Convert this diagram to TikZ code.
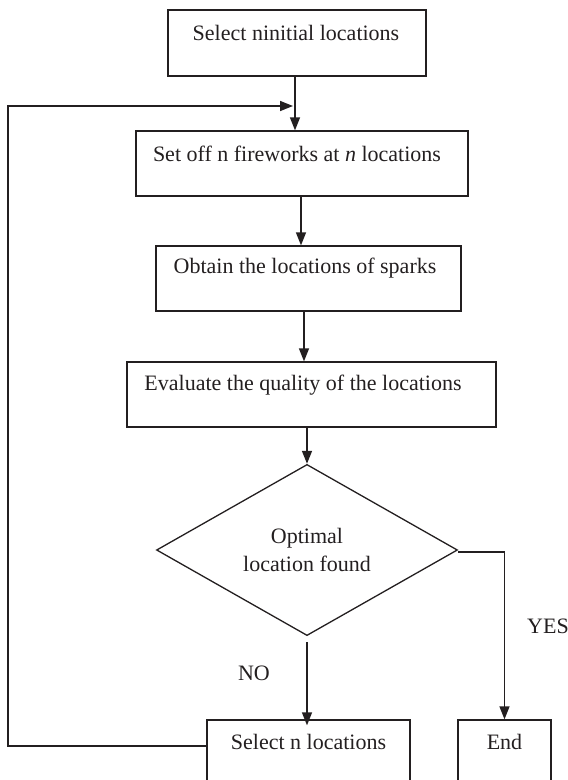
\documentclass[tikz,border=0pt]{standalone}
\usepackage{fontspec}
\setmainfont{Liberation Serif}
\usetikzlibrary{arrows.meta,shapes.geometric}
\definecolor{ink}{RGB}{35,31,32}
\begin{document}
\begin{tikzpicture}[x=1pt,y=-1pt,
  every node/.style={font=\fontsize{22}{28}\selectfont, text=ink},
  box/.style={draw=ink, rectangle, line width=1.35pt, inner sep=0pt},
  dec/.style={draw=ink, diamond, line width=1.3pt, inner sep=0pt, align=center},
  link/.style={draw=ink, line width=1.5pt, -{Triangle[length=13pt,width=10pt]}}]
\clip (0,0) rectangle (568,780);
% boxes
\node[box, minimum width=258pt, minimum height=66pt,
  label={[name=t1, xshift=-1pt, yshift=10pt]center:Select ninitial locations}] (b1) at (297,43) {};
\node[box, minimum width=332pt, minimum height=65pt,
  label={[name=t2, xshift=-5pt, yshift=9.5pt]center:Set off n fireworks at \textit{n} locations}] (b2) at (302,163.5) {};
\node[box, minimum width=305pt, minimum height=65pt,
  label={[name=t3, xshift=-3.5pt, yshift=10.5pt]center:Obtain the locations of sparks}] (b3) at (308.5,278.5) {};
\node[box, minimum width=369pt, minimum height=65pt,
  label={[name=t4, xshift=-8.5pt, yshift=9.5pt]center:Evaluate the quality of the locations}] (b4) at (311.5,394.5) {};
\node[dec, minimum width=301pt, minimum height=127pt] (d) at (307,550) {Optimal\\location found};
\node[box, minimum width=203pt, minimum height=80pt,
  label={[name=t5, yshift=18pt]center:Select n locations}] (b5) at (308.5,760) {};
\node[box, minimum width=93pt, minimum height=80pt,
  label={[name=t6, yshift=18pt]center:End}] (b6) at (504.5,760) {};
% labels
\node (no) at (254,673) {NO};
\node (yes) at (548,626) {YES};
% connectors
\coordinate (j) at (293,106);
\coordinate (lc) at (8,106);
\draw[link] ([xshift=-2pt]b1.south) -- ([xshift=-2pt]b1.south |- b2.north);
\draw[link] ([yshift=14pt]b5.west) -| (lc) -- (j);
\draw[link] ([xshift=-1pt]b2.south) -- ([xshift=-1pt]b2.south |- b3.north);
\draw[link] ([xshift=-4.5pt]b3.south) -- ([xshift=-4.5pt]b3.south |- b4.north);
\draw[link] (b4.south -| d.north) -- (d.north);
\draw[link] ([yshift=-6pt]d.south) -- ([yshift=-6pt]d.south |- b5.north);
\draw[link] ([yshift=-2pt]d.east) -| (b6.north);
\end{tikzpicture}
\end{document}
